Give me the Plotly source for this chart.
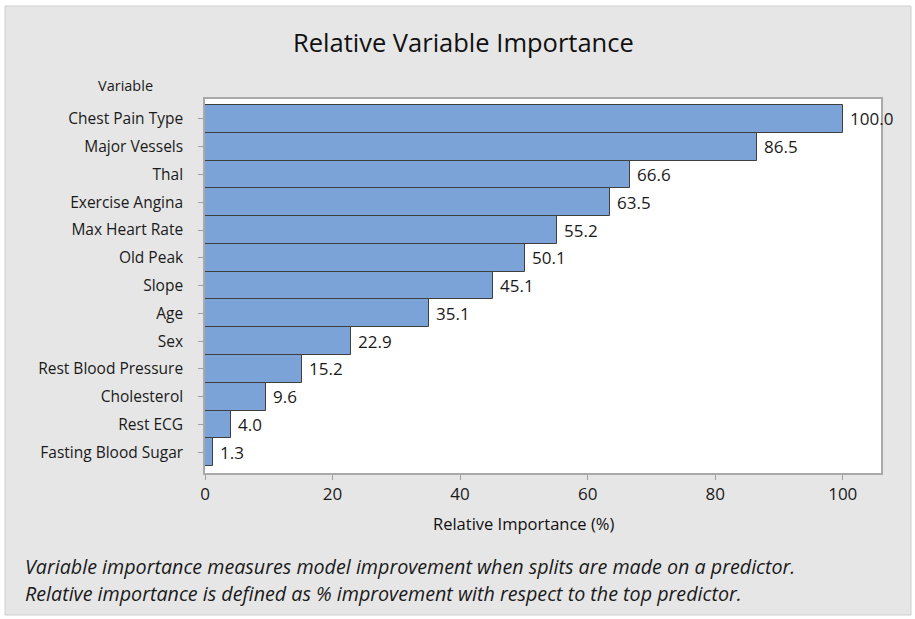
import plotly.graph_objects as go

variables = ["Chest Pain Type", "Major Vessels", "Thal", "Exercise Angina", "Max Heart Rate",
             "Old Peak", "Slope", "Age", "Sex", "Rest Blood Pressure", "Cholesterol",
             "Rest ECG", "Fasting Blood Sugar"]
importance = [100.0, 86.5, 66.6, 63.5, 55.2, 50.1, 45.1, 35.1, 22.9, 15.2, 9.6, 4.0, 1.3]
x_ticks = [0, 20, 40, 60, 80, 100]
title_text = "Relative Variable Importance"
x_title = "Relative Importance (%)"
y_title = "Variable"
footnotes = ["Variable importance measures model improvement when splits are made on a predictor.",
             "Relative importance is defined as % improvement with respect to the top predictor."]

W, H = 915, 619
L, R, T, B = 205, 34, 99, 146
PW, PH = W - L - R, H - T - B

def px(xp):
    return (xp - L) / PW

def py(yp):
    return (H - B - yp) / PH

FONT = "Open Sans"
TXT = "#1a1a1a"

fig = go.Figure()
fig.add_trace(go.Bar(
    y=variables, x=importance, orientation="h",
    marker=dict(color="#7BA3D8", line=dict(color="#3f3f3f", width=1)),
    hoverinfo="x+y",
))

annotations = []
for v, val in zip(variables, importance):
    annotations.append(dict(x=val, y=v, xref="x", yref="y", text=f"{val:.1f}",
                            showarrow=False, xanchor="left", xshift=5,
                            font=dict(family=FONT, size=17, color=TXT)))
annotations.append(dict(x=px(463), y=py(42), xref="paper", yref="paper", text=title_text,
                        showarrow=False, xanchor="center", yanchor="middle",
                        font=dict(family=FONT, size=25.5, color="#111111")))
annotations.append(dict(x=px(125), y=py(85), xref="paper", yref="paper", text=y_title,
                        showarrow=False, xanchor="center", yanchor="middle",
                        font=dict(family=FONT, size=14.5, color=TXT)))
annotations.append(dict(x=50, y=py(523), xref="x", yref="paper", text=x_title,
                        showarrow=False, xanchor="center", yanchor="middle",
                        font=dict(family=FONT, size=16.5, color="#111111")))
for i, line in enumerate(footnotes):
    annotations.append(dict(x=px(23), y=py(566 + 27 * i), xref="paper", yref="paper",
                            text=f"<i>{line}</i>", showarrow=False, xanchor="left", yanchor="middle",
                            font=dict(family=FONT, size=19.7, color=TXT)))

shapes = [
    dict(type="rect", xref="paper", yref="paper", x0=px(5), x1=px(911), y0=py(6), y1=py(615),
         fillcolor="#e6e6e6", line=dict(color="#cfcfcf", width=1), layer="below"),
    dict(type="rect", xref="paper", yref="paper", x0=0, x1=1, y0=0, y1=1,
         fillcolor="white", line=dict(width=0), layer="below"),
]

fig.update_layout(
    width=W, height=H,
    margin=dict(l=L, r=R, t=T, b=B),
    paper_bgcolor="white", plot_bgcolor="white",
    showlegend=False, bargap=0,
    annotations=annotations, shapes=shapes,
    font=dict(family=FONT, color=TXT),
)
fig.update_xaxes(range=[0, 106], tickvals=x_ticks, ticks="outside", ticklen=5, tickcolor="#a0a0a0",
                 showgrid=False, zeroline=False, showline=True, linecolor="#a9a9a9", linewidth=1.5,
                 mirror=True, tickfont=dict(family=FONT, size=17, color=TXT))
fig.update_yaxes(categoryorder="array", categoryarray=variables, range=[12.75, -0.72],
                 ticks="outside", ticklen=5, tickcolor="#a0a0a0", ticklabelstandoff=12,
                 showgrid=False, zeroline=False, showline=True, linecolor="#a9a9a9", linewidth=1.5,
                 mirror=True, tickfont=dict(family=FONT, size=15.5, color=TXT))

fig.write_html("out.html", config={"displayModeBar": False},
               post_script="document.body.style.margin='0px';")
